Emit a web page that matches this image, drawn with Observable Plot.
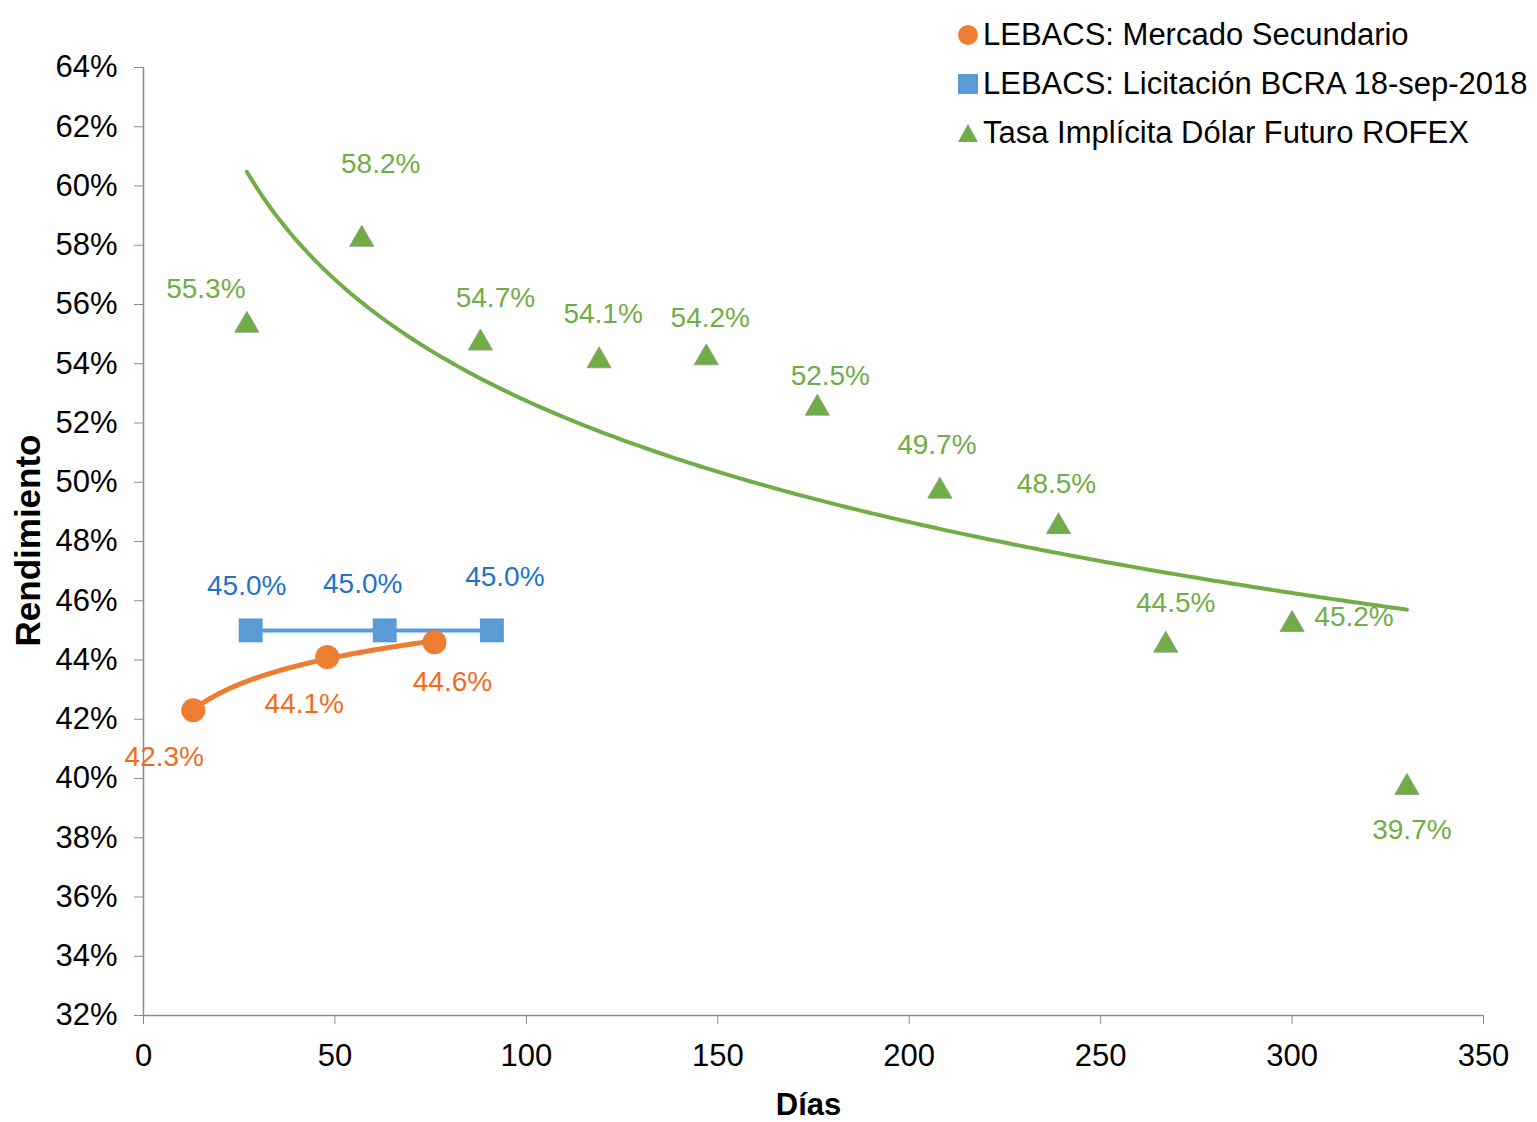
<!DOCTYPE html>
<html>
<head>
<meta charset="utf-8">
<script src="https://cdn.jsdelivr.net/npm/d3@7"></script>
<script src="https://cdn.jsdelivr.net/npm/@observablehq/plot@0.6"></script>
<style>
  html, body { margin: 0; padding: 0; background: #fff; }
  #wrap { position: relative; width: 1537px; height: 1122px; font-family: "Liberation Sans", Arial, sans-serif; }
  #legend { position: absolute; left: 957px; top: 10px; font-size: 31px; color: #000; }
  #legend .row { display: flex; align-items: center; height: 49px; }
  #legend svg { margin-right: 4px; }
</style>
</head>
<body>
<div id="wrap">
  <div id="chart"></div>
  <div id="legend"></div>
</div>
<script>
// ---- Data ----
const mercadoDias = [13, 48, 76];
const mercadoRend = [42.3, 44.1, 44.6];

const licitacionDias = [28, 63, 91];
const licitacionRend = [45.0, 45.0, 45.0];

const rofexDias = [27, 57, 88, 119, 147, 176, 208, 239, 267, 300, 330];
const rofexRend = [55.3, 58.2, 54.7, 54.1, 54.2, 52.5, 49.7, 48.5, 44.5, 45.2, 39.7];

const yTicks = [32, 34, 36, 38, 40, 42, 44, 46, 48, 50, 52, 54, 56, 58, 60, 62, 64];
const xTicks = [0, 50, 100, 150, 200, 250, 300, 350];

const seriesNames = ["LEBACS: Mercado Secundario", "LEBACS: Licitación BCRA 18-sep-2018", "Tasa Implícita Dólar Futuro ROFEX"];

// ---- Label layout (pixel offsets of value labels) ----
const mercadoOffsets = [[-29, 47], [-23, 47], [18, 40]];
const licitacionOffsets = [[-4, -44], [-22, -46], [13, -53]];
const rofexOffsets = [[-41, -36], [19, -75], [15, -45], [4, -47], [4, -40], [13, -32], [-3, -46], [-2, -43], [10, -42], [62, -7], [5, 43]];

// ---- Colors ----
const orange = "#ED7D31", blue = "#5B9BD5", green = "#70AD47";
const orangeText = "#F26B1D", blueText = "#1F74C9", greenText = "#70AD47";

// ---- Build tables ----
const mercado = mercadoDias.map((d, i) => ({x: d, y: mercadoRend[i], dx: mercadoOffsets[i][0], dy: mercadoOffsets[i][1]}));
const licitacion = licitacionDias.map((d, i) => ({x: d, y: licitacionRend[i], dx: licitacionOffsets[i][0], dy: licitacionOffsets[i][1]}));
const rofex = rofexDias.map((d, i) => ({x: d, y: rofexRend[i], dx: rofexOffsets[i][0], dy: rofexOffsets[i][1]}));

// Logarithmic trend (least squares of y on ln x), like a spreadsheet trendline
function logTrend(data) {
  const lx = data.map(d => Math.log(d.x));
  const mx = d3.mean(lx), my = d3.mean(data, d => d.y);
  let sxy = 0, sxx = 0;
  data.forEach((d, i) => { sxy += (lx[i] - mx) * (d.y - my); sxx += (lx[i] - mx) ** 2; });
  const b = sxy / sxx, a = my - b * mx;
  const [x0, x1] = d3.extent(data, d => d.x);
  const n = 200;
  return d3.range(n + 1).map(k => { const x = x0 + (x1 - x0) * k / n; return {x, y: a + b * Math.log(x)}; });
}
const rofexTrend = logTrend(rofex);
const mercadoTrend = logTrend(mercado);

const fmt = v => v.toFixed(1) + "%";
const axisColor = "#8C8C8C";

function labels(data, color) {
  return data.map(d => Plot.text([d], {x: "x", y: "y", text: t => fmt(t.y), dx: d.dx, dy: d.dy, fill: color, fontSize: 28}));
}

const chart = Plot.plot({
  width: 1537,
  height: 1122,
  marginLeft: 143,
  marginRight: 54,
  marginTop: 67,
  marginBottom: 107,
  style: {fontFamily: "'Liberation Sans', Arial, sans-serif", background: "#fff", overflow: "visible"},
  x: {domain: [0, 350], ticks: xTicks},
  y: {domain: [32, 64], ticks: yTicks},
  marks: [
    Plot.ruleX([0], {stroke: axisColor, strokeWidth: 1.5}),
    Plot.ruleY([32], {stroke: axisColor, strokeWidth: 1.5}),
    Plot.axisY({ticks: yTicks, tickFormat: d => d + "%", tickSize: 9, tickPadding: 17, fontSize: 31, stroke: axisColor, color: "#000", label: null}),
    Plot.axisX({ticks: xTicks, tickSize: 9, tickPadding: 19, fontSize: 31, stroke: axisColor, color: "#000", label: null}),
    Plot.text(["Rendimiento"], {frameAnchor: "left", text: d => d, rotate: -90, textAnchor: "middle", dx: -115, dy: -1, fontSize: 35, fontWeight: "bold", fill: "#000"}),
    Plot.text(["Días"], {frameAnchor: "bottom", text: d => d, dx: -5, dy: 99, fontSize: 31, fontWeight: "bold", fill: "#000"}),
    Plot.line(rofexTrend, {x: "x", y: "y", stroke: green, strokeWidth: 4}),
    Plot.line(mercadoTrend, {x: "x", y: "y", stroke: orange, strokeWidth: 5}),
    Plot.line(licitacion, {x: "x", y: "y", stroke: blue, strokeWidth: 4}),
    Plot.dot(rofex, {x: "x", y: "y", symbol: "triangle", r: 9, fill: green, stroke: "#8a9a80", strokeWidth: 0.8}),
    Plot.dot(mercado, {x: "x", y: "y", symbol: "circle", r: 12, fill: orange}),
    Plot.dot(licitacion, {x: "x", y: "y", symbol: "square", r: 13.5, fill: blue}),
    ...labels(rofex, greenText),
    ...labels(mercado, orangeText),
    ...labels(licitacion, blueText)
  ]
});
document.getElementById("chart").appendChild(chart);

// ---- Legend ----
const legendSymbols = [
  `<svg width="22" height="22"><circle cx="11" cy="11" r="10" fill="${orange}"/></svg>`,
  `<svg width="22" height="22"><rect x="1" y="1" width="20" height="20" fill="${blue}"/></svg>`,
  `<svg width="22" height="22"><path d="M11,2 L21,20 L1,20 Z" fill="${green}"/></svg>`
];
const legend = d3.select("#legend");
seriesNames.forEach((name, i) => {
  const row = legend.append("div").attr("class", "row");
  row.html(legendSymbols[i] + `<span>${name}</span>`);
});
</script>
</body>
</html>
